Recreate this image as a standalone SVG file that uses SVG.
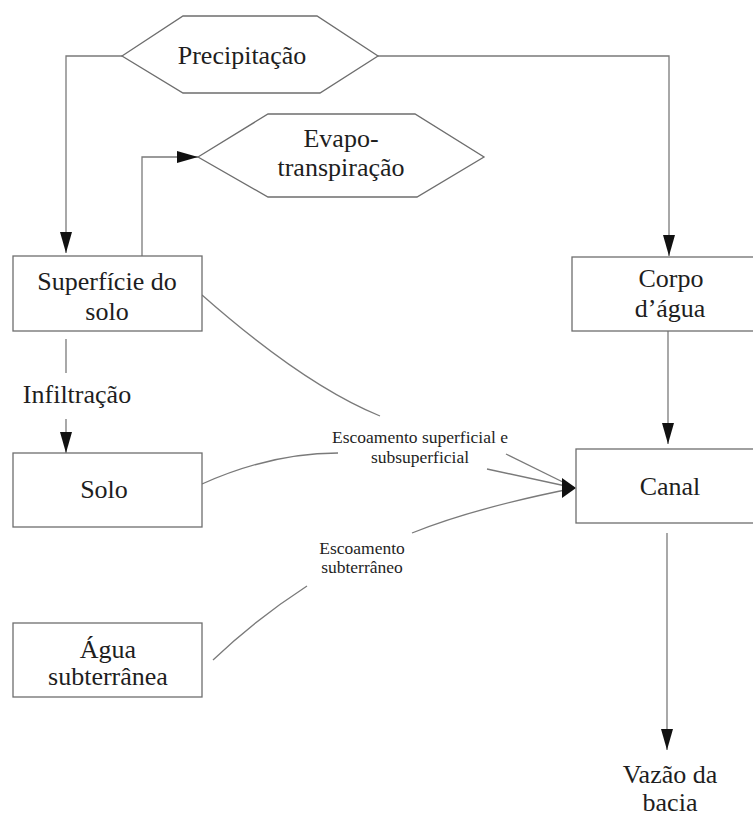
<svg xmlns="http://www.w3.org/2000/svg" width="753" height="818" viewBox="0 0 753 818">
<style>
.box{fill:#fff;stroke:#6e6e6e;stroke-width:1.3}
.ln{fill:none;stroke:#7a7a7a;stroke-width:1.3}
.t{font-size:26px;fill:#1e1e1e;text-anchor:middle}
.s{font-size:17.5px;fill:#1e1e1e;text-anchor:middle}
.ah{fill:#111}
</style>
<defs>
<marker id="arr" markerUnits="userSpaceOnUse" markerWidth="21" markerHeight="12" refX="21" refY="6" orient="auto" viewBox="0 0 21 12">
<path d="M0,0 L21,6 L0,12 z" class="ah"/>
</marker>
</defs>
<rect width="753" height="818" fill="#fff"/>
<g font-family="'Liberation Serif', 'DejaVu Serif', serif">
<g id="connectors">
<path class="ln" d="M122,56 H66 V253" marker-end="url(#arr)"/>
<path class="ln" d="M378,56 H669 V256" marker-end="url(#arr)"/>
<path class="ln" d="M142,256 V157 H198" marker-end="url(#arr)"/>
<path class="ln" d="M66,339 V373"/>
<path class="ln" d="M66,419 V453" marker-end="url(#arr)"/>
<path class="ln" d="M668,331 V444" marker-end="url(#arr)"/>
<path class="ln" d="M667,533 V750" marker-end="url(#arr)"/>
<path class="ln" d="M202,295 Q304,385 380,416"/>
<path class="ln" d="M506,454 L575,488"/>
<path class="ln" d="M202,484 Q271,453 338,453"/>
<path class="ln" d="M487,469 L575,488"/>
<path class="ln" d="M213,660 Q256,619 307,586"/>
<path class="ln" d="M412,533 Q474,508 575,488"/>
<polygon class="ah" points="562,478 576,488 562,498"/>
<text class="t" x="77" y="403">Infiltração</text>
<text class="s" x="420" y="443">Escoamento superficial e</text>
<text class="s" x="420" y="463">subsuperficial</text>
<text class="s" x="362" y="554">Escoamento</text>
<text class="s" x="362" y="573">subterrâneo</text>
</g>
<g id="precipitacao">
<polygon class="box" points="122,56 183,16 317,16 378,56 320,93 183,93"/>
<text class="t" x="242" y="64">Precipitação</text>
</g>
<g id="evapotranspiracao">
<polygon class="box" points="198,157 268,114 415,114 484,157 417,197 268,197"/>
<text class="t" x="341" y="147">Evapo-</text>
<text class="t" x="341" y="176">transpiração</text>
</g>
<g id="superficie">
<rect class="box" x="13" y="256" width="189" height="75"/>
<text class="t" x="107" y="290">Superfície do</text>
<text class="t" x="107" y="320">solo</text>
</g>
<g id="solo">
<rect class="box" x="13" y="453" width="189" height="74"/>
<text class="t" x="104" y="498">Solo</text>
</g>
<g id="agua">
<rect class="box" x="13" y="623" width="189" height="74"/>
<text class="t" x="108" y="658">Água</text>
<text class="t" x="108" y="685">subterrânea</text>
</g>
<g id="corpo">
<rect class="box" x="572" y="257" width="200" height="74"/>
<text class="t" x="671" y="287">Corpo</text>
<text class="t" x="670" y="317">d’água</text>
</g>
<g id="canal">
<rect class="box" x="576" y="449" width="200" height="74"/>
<text class="t" x="670" y="495">Canal</text>
</g>
<g id="vazao">
<text class="t" x="670" y="783">Vazão da</text>
<text class="t" x="670" y="811">bacia</text>
</g>
</g>
</svg>
